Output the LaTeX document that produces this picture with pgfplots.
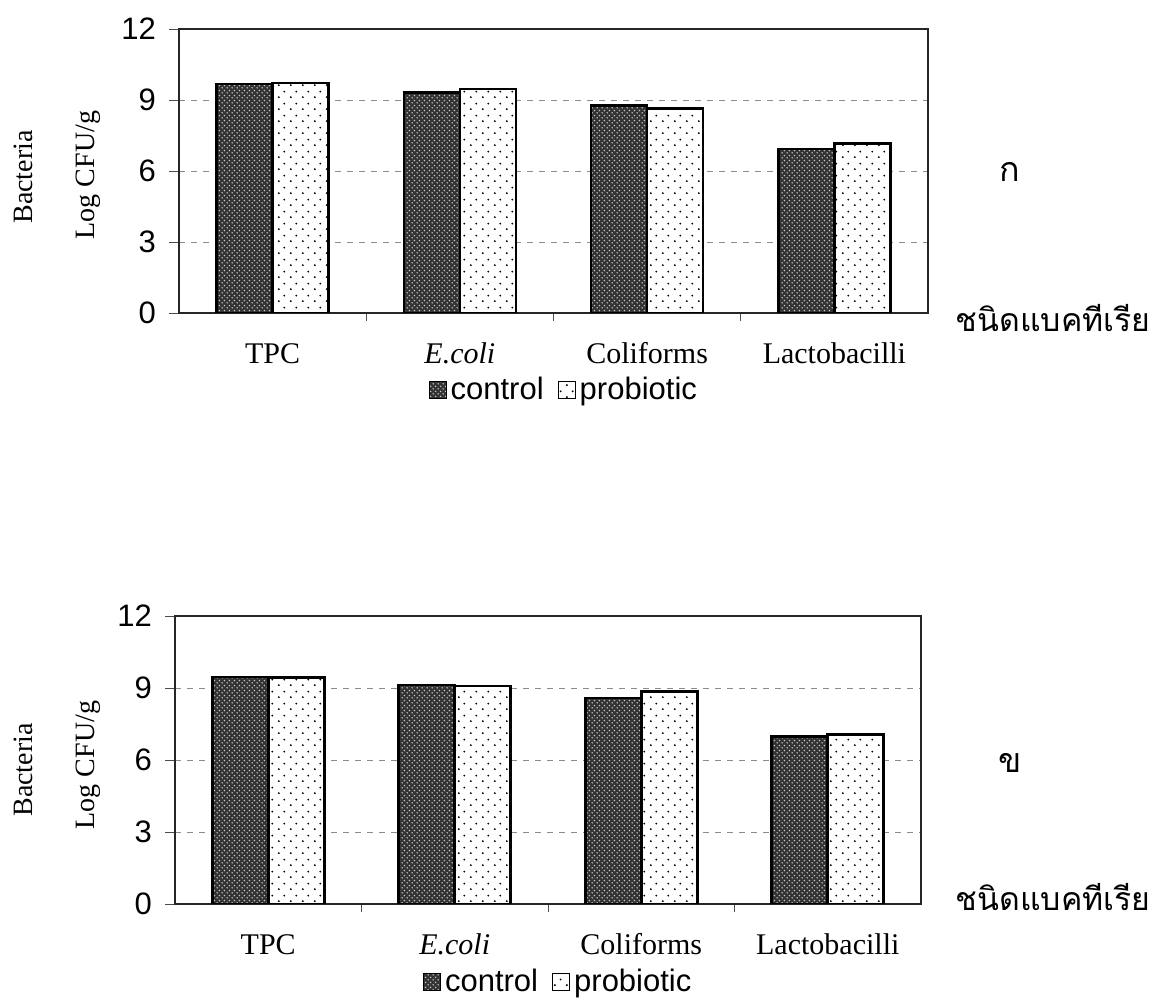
\documentclass[border=0pt]{standalone}
\usepackage{pgfplots}
\pgfplotsset{compat=1.18}
\usepackage{pgfplotstable}
\usetikzlibrary{patterns,patterns.meta}
\usepackage{fontspec}
\setmainfont{Liberation Serif}
\newfontfamily\arial{Liberation Sans}
\newfontfamily\thai[Script=Thai]{Loma}

\tikzdeclarepattern{name=sparsedots, type=uncolored,
  bounding box={(0pt,0pt) and (6pt,6pt)}, tile size={(6pt,6pt)},
  code={\fill (1.5pt,1.5pt) circle (0.55pt); \fill (4.5pt,4.5pt) circle (0.55pt);}}
\tikzdeclarepattern{name=meshdots, type=uncolored,
  bounding box={(0pt,0pt) and (2.4pt,2.4pt)}, tile size={(2.4pt,2.4pt)},
  code={\fill (0.6pt,0.6pt) circle (0.42pt); \fill (1.8pt,1.8pt) circle (0.42pt);}}

\pgfplotstableread{
x control probiotic
0 9.67 9.71
1 9.31 9.47
2 8.76 8.63
3 6.93 7.16
}\topdata
\pgfplotstableread{
x control probiotic
0 9.45 9.43
1 9.13 9.08
2 8.59 8.86
3 6.98 7.05
}\botdata

\pgfplotsset{
  bactaxis/.style={
    scale only axis,
    ybar=0pt, bar width=28pt,
    xmin=-0.5, xmax=3.5, ymin=0, ymax=12,
    enlargelimits=false,
    ytick={0,3,6,9,12},
    xtick={0,1,2,3},
    xticklabels={TPC,\textit{E.coli},Coliforms,Lactobacilli},
    minor xtick={0.5,1.5,2.5},
    major x tick style={draw=none},
    tick pos=left,
    tick align=outside,
    major tick length=5pt, minor tick length=4pt,
    tick style={black!70, thin},
    ymajorgrids,
    major grid style={dashed, black!45, thin},
    axis line style={black!85, line width=0.7pt},
    /pgf/number format/assume math mode=true,
    yticklabel style={font=\arial\fontsize{15.5}{18}\selectfont, xshift=-3pt},
    xticklabel style={font=\fontsize{15}{17}\selectfont, yshift=-6pt,
      text height=10.5pt, text depth=3pt},
    legend style={draw=none, fill=none, at={(0.515,-0.27)}, anchor=center,
      legend columns=2, font=\arial\fontsize{15.5}{18}\selectfont,
      /tikz/every even column/.append style={column sep=5pt}},
    legend image code/.code={\draw[##1, line width=0.5pt] (0cm,-0.15cm) rectangle (0.3cm,0.15cm);},
  },
  ctrlstyle/.style={draw=black, line width=1.3pt, fill=black!80,
    postaction={pattern=meshdots, pattern color=white!78!black}},
  probstyle/.style={draw=black, line width=1.3pt, fill=white,
    postaction={pattern=sparsedots, pattern color=black}},
}

\begin{document}
\begin{tikzpicture}
\useasboundingbox (0pt,0pt) rectangle (575.5pt,500pt);

% top chart
\begin{axis}[bactaxis, at={(89.5pt,343.5pt)}, anchor=south west,
  width=374.5pt, height=142pt]
\addplot[ctrlstyle] table[x=x, y=control] {\topdata};
\addplot[probstyle] table[x=x, y=probiotic] {\topdata};
\legend{control,probiotic}
\end{axis}

% bottom chart
\begin{axis}[bactaxis, at={(87.5pt,48pt)}, anchor=south west,
  width=373pt, height=144pt]
\addplot[ctrlstyle] table[x=x, y=control] {\botdata};
\addplot[probstyle] table[x=x, y=probiotic] {\botdata};
\legend{control,probiotic}
\end{axis}

% axis titles and panel marks
\node[rotate=90, font=\fontsize{14}{16}\selectfont] at (11.5pt,411.5pt) {Bacteria};
\node[rotate=90, font=\fontsize{14}{16}\selectfont] at (44pt,412.5pt) {Log CFU/g};
\node[font=\thai\fontsize{17}{19}\selectfont] at (505pt,414pt) {ก};
\node[font=\thai\fontsize{16}{19}\selectfont] at (526.5pt,341pt) {ชนิดแบคทีเรีย};

\node[rotate=90, font=\fontsize{14}{16}\selectfont] at (11.5pt,115pt) {Bacteria};
\node[rotate=90, font=\fontsize{14}{16}\selectfont] at (44pt,117.5pt) {Log CFU/g};
\node[font=\thai\fontsize{17}{19}\selectfont] at (505pt,118.5pt) {ข};
\node[font=\thai\fontsize{16}{19}\selectfont] at (526.5pt,51.5pt) {ชนิดแบคทีเรีย};
\end{tikzpicture}
\end{document}
